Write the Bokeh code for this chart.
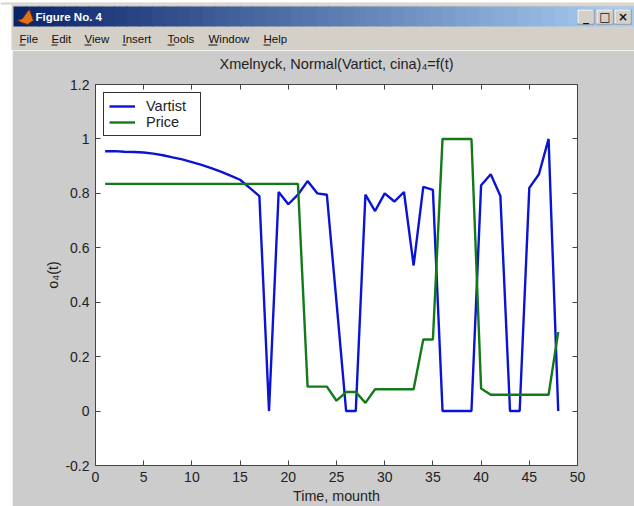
from bokeh.plotting import figure
from bokeh.layouts import column, row
from bokeh.embed import file_html
from bokeh.resources import INLINE
from bokeh.core.properties import value
from bokeh.models import Range1d, LinearAxis, FixedTicker, Legend, LegendItem, CustomLabelingPolicy

months = list(range(1, 49))
vartist = [.955, .955, .953, .952, .95, .946, .94, .932, .925, .915, .905, .893,
           .88, .865, .85, .82, .79, 0, .805, .76, .795, .845, .80, .795,
           .40, 0, 0, .795, .735, .80, .77, .805, .535, .824, .813, 0,
           0, 0, 0, .83, .87, .79, 0, 0, .82, .87, 1, 0]
price = [.835] * 21 + [.09, .09, .09, .038, .07, .07, .03, .08, .08, .08, .08, .08,
                       .263, .263, 1, 1, 1, 1, .083, .06, .06, .06, .06, .06, .06, .06, .29]
x_ticks = list(range(0, 55, 5))
y_ticks = [-0.2, 0, 0.2, 0.4, 0.6, 0.8, 1, 1.2]
y_labels = {-0.2: "-0.2", 0: "0", 0.2: "0.2", 0.4: "0.4", 0.6: "0.6", 0.8: "0.8", 1: "1", 1.2: "1.2"}
menu_items = ["File", "Edit", "View", "Insert", "Tools", "Window", "Help"]

FONT = "Liberation Sans"
GRAY = "#cccccc"
INK = "#222222"

# ---- window chrome: its own small figure, in pixel coordinates
W, HEAD = 634, 50
c = figure(width=W, height=HEAD, output_backend="svg", toolbar_location=None,
           x_range=Range1d(0, W), y_range=Range1d(HEAD, 0), min_border=0,
           border_fill_color="white", background_fill_color="white", outline_line_color=None)
c.axis.visible = False
c.grid.visible = False


def rect(x0, y0, x1, y1, color):
    c.quad(left=[x0], right=[x1], top=[y0], bottom=[y1], fill_color=color, line_color=None)


def label(x, y, s, size, color, style="normal", font=FONT, align="left"):
    c.text(x=[x], y=[y], text=[s], text_font=value(font), text_font_size=value(size),
           text_color=color, text_font_style=style, text_baseline="middle", text_align=align)


rect(0, 2, W, 4, "#d8d4cc")
rect(11, 4, W, HEAD, "#d4d0c8")
n = 48
c0, c1 = (10, 36, 106), (166, 202, 240)
for i in range(n):
    t = i / (n - 1)
    col = "#%02x%02x%02x" % tuple(round(a + (b - a) * t) for a, b in zip(c0, c1))
    rect(13 + (W - 17 - 13) * i / n, 6, 13 + (W - 17 - 13) * (i + 1) / n + 1, 26, col)
rect(W - 18, 6, W, 26, "#a6caf0")
# program icon
c.patch([17, 22, 27, 29, 33, 27, 21], [20, 18, 11, 9, 20, 24, 22], fill_color="#e0701a", line_color="#6a2a10")
label(35, 16.5, "Figure No. 4", "11.5px", "white", "bold")

menu_x = [19, 51, 84, 122, 167, 208, 263]
menu_u = [6, 6, 7, 4, 7, 9, 7]
for mx, mu, m in zip(menu_x, menu_u, menu_items):
    label(mx, 38, m, "11.5px", "#111111")
    rect(mx, 44, mx + mu, 45, "#111111")

for bx, s in zip([577, 596, 614], ["_", "□", "×"]):
    rect(bx, 9, bx + 17, 24, "#808080")
    rect(bx, 9, bx + 16, 23, "white")
    rect(bx + 1, 10, bx + 16, 23, "#d4d0c8")
    label(bx + 8.5, 16, s, "12px", "#111111", "bold", "DejaVu Sans", "center")

# ---- the chart
LEFT = 12
H = 456
FL, FR, FT, FB = 95 - LEFT, 577 - LEFT, 84 - HEAD, 466 - HEAD
PW = W - LEFT
p = figure(width=PW, height=H, output_backend="svg", toolbar_location=None,
           x_range=Range1d(0, 50), y_range=Range1d(-0.2, 1.2),
           min_border_left=FL, min_border_right=PW - FR,
           min_border_top=FT, min_border_bottom=H - FB,
           border_fill_color=GRAY, background_fill_color="white", outline_line_color="#444444",
           margin=(0, 0, 0, LEFT))
p.grid.visible = False

l1 = p.line(months, vartist, line_color="#0a14d2", line_width=2.4)
l2 = p.line(months, price, line_color="#137a1a", line_width=2.4)

ax = p.xaxis[0]
ay = p.yaxis[0]
ax.ticker = FixedTicker(ticks=x_ticks)
ay.ticker = FixedTicker(ticks=y_ticks)
ay.major_label_overrides = y_labels
ax.axis_label = "Time, mounth"
ay.axis_label = "o₄(t)"
for a in (ax, ay):
    a.major_tick_in = 5
    a.major_tick_out = 0
    a.minor_tick_line_color = None
    a.axis_line_color = "#444444"
    a.major_tick_line_color = "#444444"
    a.major_label_text_font = FONT
    a.major_label_text_font_size = "14px"
    a.major_label_text_color = INK
    a.axis_label_text_font = FONT
    a.axis_label_text_font_style = "normal"
    a.axis_label_text_font_size = "14.3px"
    a.axis_label_text_color = INK
ax.major_label_standoff = 6
ay.major_label_standoff = 6
ax.axis_label_standoff = 3
ay.axis_label_standoff = 1

hide = CustomLabelingPolicy(code="for (const i of indices) indices.unset(i)\nreturn indices")
for place, ticks in (("right", y_ticks), ("above", x_ticks)):
    extra = LinearAxis(ticker=FixedTicker(ticks=ticks), major_tick_in=5, major_tick_out=0,
                       minor_tick_line_color=None, major_label_policy=hide,
                       major_label_standoff=0,
                       axis_line_color="#444444", major_tick_line_color="#444444")
    p.add_layout(extra, place)

p.title.text = "Xmelnyck, Normal(Vartict, cina)₄=f(t)"
p.title.align = "center"
p.title.text_font = FONT
p.title.text_font_style = "normal"
p.title.text_font_size = "14.5px"
p.title.text_color = INK
p.title.standoff = 4

legend = Legend(items=[LegendItem(label="Vartist", renderers=[l1]),
                       LegendItem(label="Price", renderers=[l2])],
                location=(8, 329), orientation="vertical",
                border_line_color="#333333", border_line_alpha=1, background_fill_alpha=1,
                label_text_font=FONT, label_text_font_size="14.5px", label_text_color=INK,
                glyph_width=26, glyph_height=14, label_height=14, spacing=0,
                padding=5, margin=0, label_standoff=11, label_width=49)
p.add_layout(legend, "center")

page = column(row(c), p, spacing=0)
open("out.html", "w").write(file_html(page, INLINE))
